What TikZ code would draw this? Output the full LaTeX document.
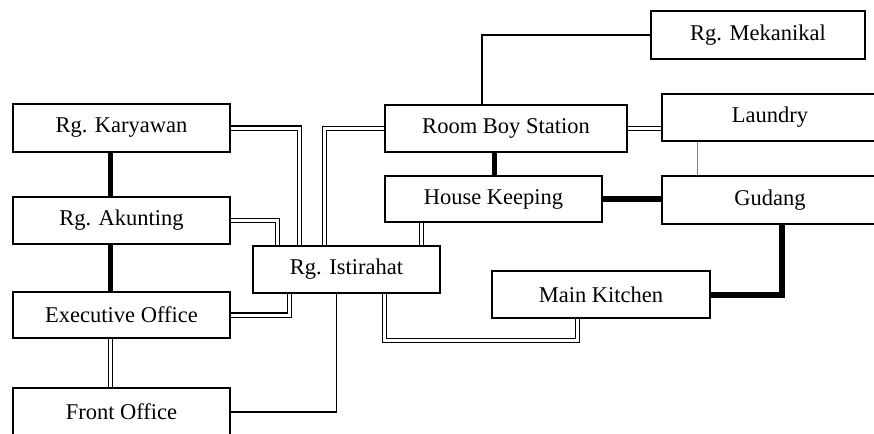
\documentclass[tikz,border=0pt]{standalone}
\usepackage{fontspec}
\setmainfont{Liberation Serif}
\tikzset{
  ruang/.style={draw,line width=1.3pt,fill=white,inner sep=0pt,font=\fontsize{22.5}{26}\selectfont},
  dbl/.style={double,double distance=3pt,line width=1.1pt},
  tebal/.style={line width=5pt},
  tipis/.style={line width=1.1pt}
}
\begin{document}
\begin{tikzpicture}[x=1pt,y=-1pt]
  \useasboundingbox (0,0) rectangle (874,433);
  % ruangan
  \node[ruang,minimum width=214,minimum height=48] (mek) at (758,35) {Rg. Mekanikal};
  \node[ruang,minimum width=217,minimum height=48] (kary) at (121.5,128) {Rg. Karyawan};
  \node[ruang,minimum width=242,minimum height=47] (rb) at (506,128.5) {Room Boy Station};
  \node[ruang,minimum width=216,minimum height=47] (lau) at (770,117.5) {Laundry};
  \node[ruang,minimum width=217,minimum height=47] (aku) at (121.5,220.5) {Rg. Akunting};
  \node[ruang,minimum width=217,minimum height=46] (hk) at (493.5,199) {House Keeping};
  \node[ruang,minimum width=216,minimum height=48] (gud) at (770,200) {Gudang};
  \node[ruang,minimum width=187,minimum height=47] (ist) at (346.5,269.5) {Rg. Istirahat};
  \node[ruang,minimum width=218,minimum height=47] (mk) at (601,294.5) {Main Kitchen};
  \node[ruang,minimum width=217,minimum height=46] (exe) at (121.5,315) {Executive Office};
  \node[ruang,minimum width=217,minimum height=48] (fro) at (121.5,412) {Front Office};
  % hubungan kiri
  \draw[tebal] ([xshift=-11]kary.south) -- ([xshift=-11]kary.south |- aku.north);
  \draw[tebal] ([xshift=-11]aku.south) -- ([xshift=-11]aku.south |- exe.north);
  \draw[dbl] ([xshift=-11]exe.south) -- ([xshift=-11]exe.south |- fro.north);
  % ke istirahat
  \draw[dbl] (kary.east) -| ([xshift=47]ist.north west);
  \draw[dbl] (aku.east) -| ([xshift=25]ist.north west);
  \draw[dbl] (exe.east) -| ([xshift=37]ist.south west);
  \draw[dbl] (rb.west) -| ([xshift=72]ist.north west);
  \draw[dbl] ([xshift=37]hk.south west) -- ([xshift=37]hk.south west |- ist.north);
  \draw[tipis] (fro.east) -| ([xshift=84]ist.south west);
  \draw[dbl] ([xshift=132]ist.south west) -- ++(0,47) -| ([xshift=86]mk.south west);
  % hubungan kanan
  \draw[tipis] ([xshift=-24]rb.north) |- (mek.west);
  \draw[dbl] (rb.east) -- (rb.east -| lau.west);
  \draw[tebal] ([xshift=-12]rb.south) -- ([xshift=-12]rb.south |- hk.north);
  \draw[line width=6pt] (hk.east) -- (hk.east -| gud.west);
  \draw[line width=0.6pt,gray] ([xshift=36]lau.south west) -- ([xshift=36]lau.south west |- gud.north);
  \draw[line width=6pt] ([xshift=121]gud.south west) |- (mk.east);
\end{tikzpicture}
\end{document}
